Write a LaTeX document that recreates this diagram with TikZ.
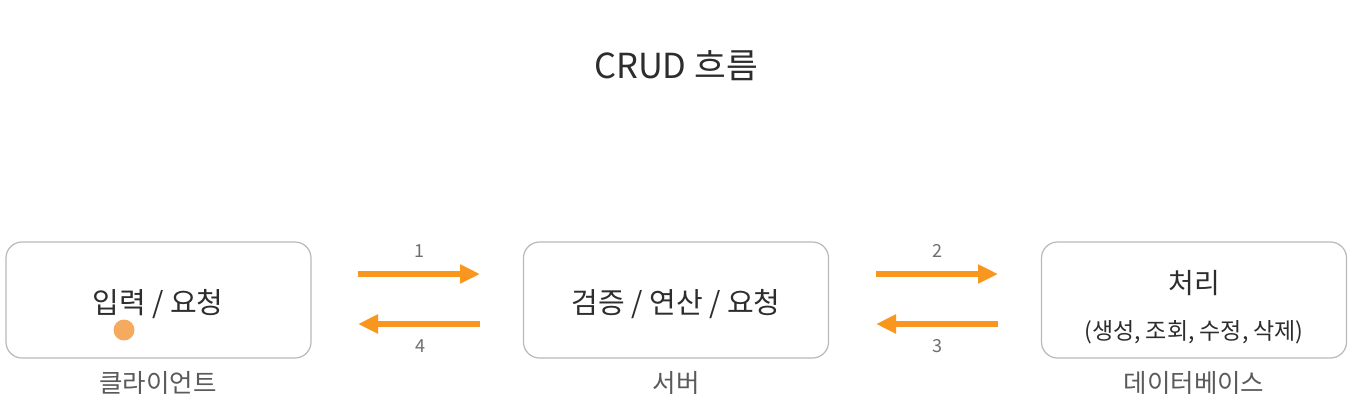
\documentclass[tikz,border=0pt]{standalone}
\usepackage{fontspec}
\setmainfont{Noto Sans CJK KR}
\usetikzlibrary{arrows.meta}
\definecolor{arrorange}{RGB}{248,150,30}
\definecolor{boxgray}{RGB}{185,185,185}
\definecolor{txtdark}{RGB}{45,45,45}
\definecolor{txtgray}{RGB}{90,90,90}
\definecolor{numgray}{RGB}{110,110,110}
\definecolor{cursorc}{RGB}{245,170,95}
\begin{document}
\begin{tikzpicture}[x=1pt,y=-1pt,
  stagebox/.style={draw=boxgray,line width=1.2pt,rounded corners=16pt,minimum width=305pt,minimum height=116pt,inner sep=0pt,align=center,text=txtdark},
  rolelabel/.style={text=txtgray,font=\fontsize{25.5}{28}\selectfont,inner sep=0pt},
  numlabel/.style={text=numgray,font=\fontsize{18}{20}\selectfont,inner sep=0pt},
  flowarrow/.style={draw=arrorange,line width=6pt,-{Triangle[length=20pt,width=18pt]}}]
\useasboundingbox[fill=white] (0,0) rectangle (1357,416);
\node[text=txtdark,font=\fontsize{34.5}{40}\selectfont,inner sep=0pt] (title) at (676,66) {CRUD 흐름};
\node[stagebox] (client) at (158.5,300) {};
\node[stagebox] (server) at (676,300) {};
\node[stagebox] (db) at (1194,300) {};
\node[text=txtdark,font=\fontsize{29}{32}\selectfont,inner sep=0pt] (clienttext) at (158,304) {입력 / 요청};
\node[text=txtdark,font=\fontsize{29}{32}\selectfont,inner sep=0pt] (servertext) at (676,304) {검증 / 연산 / 요청};
\node[text=txtdark,font=\fontsize{28}{32}\selectfont,inner sep=0pt] (dbtext) at (1194,283) {처리};
\node[text=txtdark,font=\fontsize{23}{26}\selectfont,inner sep=0pt] (dbsub) at (1194,332) {(생성, 조회, 수정, 삭제)};
\node[rolelabel] (clientlabel) at (158,383) {클라이언트};
\node[rolelabel] (serverlabel) at (676,383) {서버};
\node[rolelabel] (dblabel) at (1194,383) {데이터베이스};
\coordinate (a1s) at (358,274);
\coordinate (a1e) at (480,274);
\coordinate (a4s) at (480,324);
\coordinate (a4e) at (358,324);
\coordinate (a2s) at (876,274);
\coordinate (a2e) at (998,274);
\coordinate (a3s) at (998,324);
\coordinate (a3e) at (876,324);
\draw[flowarrow] (a1s) -- (a1e);
\draw[flowarrow] (a4s) -- (a4e);
\draw[flowarrow] (a2s) -- (a2e);
\draw[flowarrow] (a3s) -- (a3e);
\node[numlabel] (n1) at (419,251) {1};
\node[numlabel] (n4) at (420,346) {4};
\node[numlabel] (n2) at (937,251) {2};
\node[numlabel] (n3) at (937,346) {3};
\fill[cursorc] (124,330) circle (10.5pt);
\end{tikzpicture}
\end{document}
